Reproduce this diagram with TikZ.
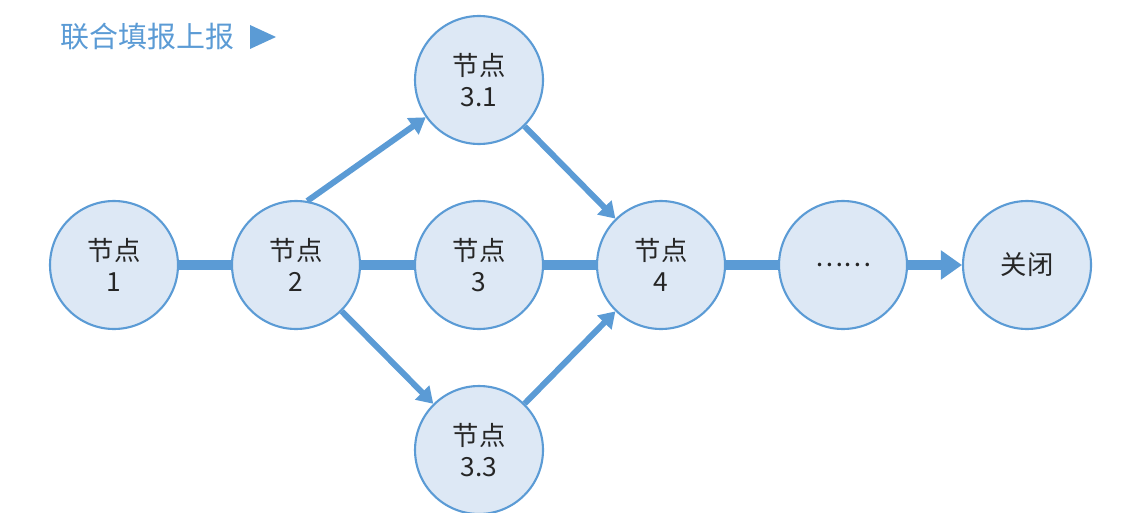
\documentclass[tikz,border=0pt]{standalone}
\usepackage{fontspec}
\setmainfont{Noto Sans CJK SC}
\usepackage{tikz}
\usetikzlibrary{arrows.meta}
\definecolor{lineblue}{HTML}{5B9BD5}
\definecolor{fillblue}{HTML}{DDE8F5}

\begin{document}
\begin{tikzpicture}[x=0.02cm, y=-0.02cm,
    stage/.style={circle, draw=lineblue, fill=fillblue, line width=1.2pt, minimum size=2.56cm, inner sep=0pt, align=center, font=\fontsize{15}{18}\selectfont, text=black!85},
    bar/.style={draw=lineblue, line width=6pt},
    link/.style={draw=lineblue, line width=3.4pt, -{Triangle[length=9pt, width=11pt]}}]
    \useasboundingbox (0,0) rectangle (1124,513);

    % Title
    \node[anchor=west, text=lineblue, font=\fontsize{16.5}{20}\selectfont, inner sep=0pt] (Title) at (60,37) {联合填报上报};
    \fill[lineblue] (250,25) -- (276,37) -- (250,49) -- cycle;

    % Stages
    \node[stage] (N1) at (114,265) {节点\\1};
    \node[stage] (N2) at (296,265) {节点\\2};
    \node[stage] (N3) at (479,265) {节点\\3};
    \node[stage] (N31) at (479,80) {节点\\3.1};
    \node[stage] (N33) at (479,450) {节点\\3.3};
    \node[stage] (N4) at (661,265) {节点\\4};
    \node[stage] (Ndots) at (843,265) {……};
    \node[stage] (Close) at (1027,265) {关闭};

    % Main line
    \draw[bar] (N1) -- (N2);
    \draw[bar] (N2) -- (N3);
    \draw[bar] (N3) -- (N4);
    \draw[bar] (N4) -- (Ndots);
    \draw[bar, -{Triangle[length=12pt, width=16pt]}] (Ndots) -- (Close);

    % Branches
    \draw[link] (N2.80) -- (N31.-145);
    \draw[link] (N31) -- (N4);
    \draw[link] (N2) -- (N33);
    \draw[link] (N33) -- (N4);
\end{tikzpicture}
\end{document}
